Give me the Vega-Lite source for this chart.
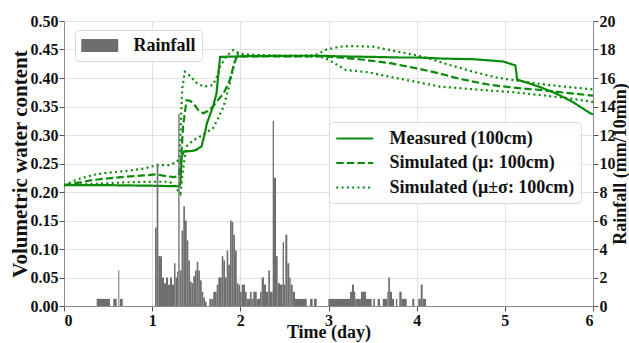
{
  "$schema": "https://vega.github.io/schema/vega-lite/v6.json",
  "width": 529,
  "height": 285,
  "autosize": {"type": "none"},
  "padding": {"left": 64, "top": 21, "right": 36, "bottom": 37},
  "background": "white",
  "config": {
    "font": "Liberation Serif",
    "view": {"stroke": "#8c8c8c", "strokeWidth": 1},
    "axis": {
      "labelFont": "Liberation Serif",
      "labelFontWeight": "bold",
      "labelFontSize": 16,
      "labelColor": "#111111",
      "titleFont": "Liberation Serif",
      "titleFontWeight": "bold",
      "titleFontSize": 18,
      "titleColor": "#111111",
      "domainColor": "#8c8c8c",
      "tickColor": "#555555",
      "tickSize": 5,
      "gridColor": "#e2e2e2",
      "gridWidth": 1,
      "labelPadding": 1
    },
    "legend": {
      "labelFont": "Liberation Serif",
      "labelFontWeight": "bold",
      "labelFontSize": 18,
      "labelColor": "#111111",
      "labelLimit": 400,
      "labelOffset": 33.5,
      "padding": 6,
      "strokeColor": "#d9d9d9",
      "fillColor": "rgba(255,255,255,0.85)",
      "cornerRadius": 4
    }
  },
  "datasets": {
    "vwc": [
      {"t": 0, "v": 0.212, "s": "Measured (100cm)", "k": "m"},
      {"t": 0.5, "v": 0.212, "s": "Measured (100cm)", "k": "m"},
      {"t": 1.0, "v": 0.211, "s": "Measured (100cm)", "k": "m"},
      {"t": 1.3, "v": 0.21, "s": "Measured (100cm)", "k": "m"},
      {"t": 1.32, "v": 0.214, "s": "Measured (100cm)", "k": "m"},
      {"t": 1.335, "v": 0.262, "s": "Measured (100cm)", "k": "m"},
      {"t": 1.36, "v": 0.271, "s": "Measured (100cm)", "k": "m"},
      {"t": 1.45, "v": 0.272, "s": "Measured (100cm)", "k": "m"},
      {"t": 1.5, "v": 0.274, "s": "Measured (100cm)", "k": "m"},
      {"t": 1.56, "v": 0.28, "s": "Measured (100cm)", "k": "m"},
      {"t": 1.6, "v": 0.305, "s": "Measured (100cm)", "k": "m"},
      {"t": 1.62, "v": 0.32, "s": "Measured (100cm)", "k": "m"},
      {"t": 1.69, "v": 0.35, "s": "Measured (100cm)", "k": "m"},
      {"t": 1.73, "v": 0.373, "s": "Measured (100cm)", "k": "m"},
      {"t": 1.75, "v": 0.405, "s": "Measured (100cm)", "k": "m"},
      {"t": 1.77, "v": 0.437, "s": "Measured (100cm)", "k": "m"},
      {"t": 2.0, "v": 0.438, "s": "Measured (100cm)", "k": "m"},
      {"t": 2.5, "v": 0.439, "s": "Measured (100cm)", "k": "m"},
      {"t": 2.9, "v": 0.439, "s": "Measured (100cm)", "k": "m"},
      {"t": 3.13, "v": 0.438, "s": "Measured (100cm)", "k": "m"},
      {"t": 3.5, "v": 0.437, "s": "Measured (100cm)", "k": "m"},
      {"t": 3.8, "v": 0.436, "s": "Measured (100cm)", "k": "m"},
      {"t": 4.0, "v": 0.436, "s": "Measured (100cm)", "k": "m"},
      {"t": 4.3, "v": 0.434, "s": "Measured (100cm)", "k": "m"},
      {"t": 4.64, "v": 0.433, "s": "Measured (100cm)", "k": "m"},
      {"t": 4.98, "v": 0.429, "s": "Measured (100cm)", "k": "m"},
      {"t": 5.12, "v": 0.422, "s": "Measured (100cm)", "k": "m"},
      {"t": 5.14, "v": 0.397, "s": "Measured (100cm)", "k": "m"},
      {"t": 5.25, "v": 0.392, "s": "Measured (100cm)", "k": "m"},
      {"t": 5.4, "v": 0.384, "s": "Measured (100cm)", "k": "m"},
      {"t": 5.58, "v": 0.373, "s": "Measured (100cm)", "k": "m"},
      {"t": 5.77, "v": 0.358, "s": "Measured (100cm)", "k": "m"},
      {"t": 5.96, "v": 0.339, "s": "Measured (100cm)", "k": "m"},
      {"t": 6.0, "v": 0.336, "s": "Measured (100cm)", "k": "m"},

      {"t": 0, "v": 0.212, "s": "Simulated (μ: 100cm)", "k": "mu"},
      {"t": 0.15, "v": 0.216, "s": "Simulated (μ: 100cm)", "k": "mu"},
      {"t": 0.33, "v": 0.221, "s": "Simulated (μ: 100cm)", "k": "mu"},
      {"t": 0.5, "v": 0.224, "s": "Simulated (μ: 100cm)", "k": "mu"},
      {"t": 0.71, "v": 0.227, "s": "Simulated (μ: 100cm)", "k": "mu"},
      {"t": 0.9, "v": 0.229, "s": "Simulated (μ: 100cm)", "k": "mu"},
      {"t": 1.05, "v": 0.231, "s": "Simulated (μ: 100cm)", "k": "mu"},
      {"t": 1.15, "v": 0.228, "s": "Simulated (μ: 100cm)", "k": "mu"},
      {"t": 1.25, "v": 0.226, "s": "Simulated (μ: 100cm)", "k": "mu"},
      {"t": 1.3, "v": 0.228, "s": "Simulated (μ: 100cm)", "k": "mu"},
      {"t": 1.33, "v": 0.26, "s": "Simulated (μ: 100cm)", "k": "mu"},
      {"t": 1.35, "v": 0.315, "s": "Simulated (μ: 100cm)", "k": "mu"},
      {"t": 1.39, "v": 0.361, "s": "Simulated (μ: 100cm)", "k": "mu"},
      {"t": 1.43, "v": 0.36, "s": "Simulated (μ: 100cm)", "k": "mu"},
      {"t": 1.47, "v": 0.355, "s": "Simulated (μ: 100cm)", "k": "mu"},
      {"t": 1.53, "v": 0.342, "s": "Simulated (μ: 100cm)", "k": "mu"},
      {"t": 1.58, "v": 0.338, "s": "Simulated (μ: 100cm)", "k": "mu"},
      {"t": 1.63, "v": 0.342, "s": "Simulated (μ: 100cm)", "k": "mu"},
      {"t": 1.69, "v": 0.35, "s": "Simulated (μ: 100cm)", "k": "mu"},
      {"t": 1.75, "v": 0.362, "s": "Simulated (μ: 100cm)", "k": "mu"},
      {"t": 1.81, "v": 0.373, "s": "Simulated (μ: 100cm)", "k": "mu"},
      {"t": 1.88, "v": 0.396, "s": "Simulated (μ: 100cm)", "k": "mu"},
      {"t": 1.93, "v": 0.425, "s": "Simulated (μ: 100cm)", "k": "mu"},
      {"t": 1.96, "v": 0.437, "s": "Simulated (μ: 100cm)", "k": "mu"},
      {"t": 2.0, "v": 0.438, "s": "Simulated (μ: 100cm)", "k": "mu"},
      {"t": 2.5, "v": 0.438, "s": "Simulated (μ: 100cm)", "k": "mu"},
      {"t": 2.9, "v": 0.438, "s": "Simulated (μ: 100cm)", "k": "mu"},
      {"t": 3.13, "v": 0.436, "s": "Simulated (μ: 100cm)", "k": "mu"},
      {"t": 3.4, "v": 0.432, "s": "Simulated (μ: 100cm)", "k": "mu"},
      {"t": 3.7, "v": 0.426, "s": "Simulated (μ: 100cm)", "k": "mu"},
      {"t": 4.0, "v": 0.417, "s": "Simulated (μ: 100cm)", "k": "mu"},
      {"t": 4.26, "v": 0.408, "s": "Simulated (μ: 100cm)", "k": "mu"},
      {"t": 4.5, "v": 0.398, "s": "Simulated (μ: 100cm)", "k": "mu"},
      {"t": 4.83, "v": 0.388, "s": "Simulated (μ: 100cm)", "k": "mu"},
      {"t": 5.1, "v": 0.383, "s": "Simulated (μ: 100cm)", "k": "mu"},
      {"t": 5.4, "v": 0.379, "s": "Simulated (μ: 100cm)", "k": "mu"},
      {"t": 5.7, "v": 0.374, "s": "Simulated (μ: 100cm)", "k": "mu"},
      {"t": 6.0, "v": 0.369, "s": "Simulated (μ: 100cm)", "k": "mu"},

      {"t": 0, "v": 0.212, "s": "Simulated (μ±σ: 100cm)", "k": "up"},
      {"t": 0.15, "v": 0.222, "s": "Simulated (μ±σ: 100cm)", "k": "up"},
      {"t": 0.33, "v": 0.23, "s": "Simulated (μ±σ: 100cm)", "k": "up"},
      {"t": 0.5, "v": 0.234, "s": "Simulated (μ±σ: 100cm)", "k": "up"},
      {"t": 0.71, "v": 0.237, "s": "Simulated (μ±σ: 100cm)", "k": "up"},
      {"t": 0.9, "v": 0.241, "s": "Simulated (μ±σ: 100cm)", "k": "up"},
      {"t": 1.05, "v": 0.247, "s": "Simulated (μ±σ: 100cm)", "k": "up"},
      {"t": 1.2, "v": 0.247, "s": "Simulated (μ±σ: 100cm)", "k": "up"},
      {"t": 1.28, "v": 0.253, "s": "Simulated (μ±σ: 100cm)", "k": "up"},
      {"t": 1.31, "v": 0.26, "s": "Simulated (μ±σ: 100cm)", "k": "up"},
      {"t": 1.34, "v": 0.38, "s": "Simulated (μ±σ: 100cm)", "k": "up"},
      {"t": 1.37, "v": 0.411, "s": "Simulated (μ±σ: 100cm)", "k": "up"},
      {"t": 1.42, "v": 0.405, "s": "Simulated (μ±σ: 100cm)", "k": "up"},
      {"t": 1.5, "v": 0.392, "s": "Simulated (μ±σ: 100cm)", "k": "up"},
      {"t": 1.58, "v": 0.385, "s": "Simulated (μ±σ: 100cm)", "k": "up"},
      {"t": 1.65, "v": 0.386, "s": "Simulated (μ±σ: 100cm)", "k": "up"},
      {"t": 1.69, "v": 0.388, "s": "Simulated (μ±σ: 100cm)", "k": "up"},
      {"t": 1.74, "v": 0.405, "s": "Simulated (μ±σ: 100cm)", "k": "up"},
      {"t": 1.77, "v": 0.42, "s": "Simulated (μ±σ: 100cm)", "k": "up"},
      {"t": 1.85, "v": 0.44, "s": "Simulated (μ±σ: 100cm)", "k": "up"},
      {"t": 1.92, "v": 0.449, "s": "Simulated (μ±σ: 100cm)", "k": "up"},
      {"t": 1.99, "v": 0.443, "s": "Simulated (μ±σ: 100cm)", "k": "up"},
      {"t": 2.1, "v": 0.441, "s": "Simulated (μ±σ: 100cm)", "k": "up"},
      {"t": 2.5, "v": 0.439, "s": "Simulated (μ±σ: 100cm)", "k": "up"},
      {"t": 2.85, "v": 0.44, "s": "Simulated (μ±σ: 100cm)", "k": "up"},
      {"t": 2.98, "v": 0.45, "s": "Simulated (μ±σ: 100cm)", "k": "up"},
      {"t": 3.13, "v": 0.455, "s": "Simulated (μ±σ: 100cm)", "k": "up"},
      {"t": 3.24, "v": 0.456, "s": "Simulated (μ±σ: 100cm)", "k": "up"},
      {"t": 3.51, "v": 0.455, "s": "Simulated (μ±σ: 100cm)", "k": "up"},
      {"t": 3.7, "v": 0.449, "s": "Simulated (μ±σ: 100cm)", "k": "up"},
      {"t": 4.07, "v": 0.4375, "s": "Simulated (μ±σ: 100cm)", "k": "up"},
      {"t": 4.35, "v": 0.424, "s": "Simulated (μ±σ: 100cm)", "k": "up"},
      {"t": 4.64, "v": 0.411, "s": "Simulated (μ±σ: 100cm)", "k": "up"},
      {"t": 4.9, "v": 0.401, "s": "Simulated (μ±σ: 100cm)", "k": "up"},
      {"t": 5.21, "v": 0.3935, "s": "Simulated (μ±σ: 100cm)", "k": "up"},
      {"t": 5.6, "v": 0.386, "s": "Simulated (μ±σ: 100cm)", "k": "up"},
      {"t": 6.0, "v": 0.38, "s": "Simulated (μ±σ: 100cm)", "k": "up"},

      {"t": 0, "v": 0.212, "s": "Simulated (μ±σ: 100cm)", "k": "lo"},
      {"t": 0.3, "v": 0.214, "s": "Simulated (μ±σ: 100cm)", "k": "lo"},
      {"t": 0.7, "v": 0.217, "s": "Simulated (μ±σ: 100cm)", "k": "lo"},
      {"t": 1.0, "v": 0.218, "s": "Simulated (μ±σ: 100cm)", "k": "lo"},
      {"t": 1.2, "v": 0.218, "s": "Simulated (μ±σ: 100cm)", "k": "lo"},
      {"t": 1.25, "v": 0.212, "s": "Simulated (μ±σ: 100cm)", "k": "lo"},
      {"t": 1.3, "v": 0.201, "s": "Simulated (μ±σ: 100cm)", "k": "lo"},
      {"t": 1.32, "v": 0.197, "s": "Simulated (μ±σ: 100cm)", "k": "lo"},
      {"t": 1.35, "v": 0.24, "s": "Simulated (μ±σ: 100cm)", "k": "lo"},
      {"t": 1.39, "v": 0.28, "s": "Simulated (μ±σ: 100cm)", "k": "lo"},
      {"t": 1.46, "v": 0.29, "s": "Simulated (μ±σ: 100cm)", "k": "lo"},
      {"t": 1.54, "v": 0.297, "s": "Simulated (μ±σ: 100cm)", "k": "lo"},
      {"t": 1.62, "v": 0.305, "s": "Simulated (μ±σ: 100cm)", "k": "lo"},
      {"t": 1.69, "v": 0.312, "s": "Simulated (μ±σ: 100cm)", "k": "lo"},
      {"t": 1.75, "v": 0.33, "s": "Simulated (μ±σ: 100cm)", "k": "lo"},
      {"t": 1.81, "v": 0.35, "s": "Simulated (μ±σ: 100cm)", "k": "lo"},
      {"t": 1.88, "v": 0.39, "s": "Simulated (μ±σ: 100cm)", "k": "lo"},
      {"t": 1.93, "v": 0.425, "s": "Simulated (μ±σ: 100cm)", "k": "lo"},
      {"t": 1.96, "v": 0.443, "s": "Simulated (μ±σ: 100cm)", "k": "lo"},
      {"t": 2.0, "v": 0.44, "s": "Simulated (μ±σ: 100cm)", "k": "lo"},
      {"t": 2.5, "v": 0.438, "s": "Simulated (μ±σ: 100cm)", "k": "lo"},
      {"t": 2.9, "v": 0.438, "s": "Simulated (μ±σ: 100cm)", "k": "lo"},
      {"t": 3.0, "v": 0.432, "s": "Simulated (μ±σ: 100cm)", "k": "lo"},
      {"t": 3.2, "v": 0.414, "s": "Simulated (μ±σ: 100cm)", "k": "lo"},
      {"t": 3.45, "v": 0.41, "s": "Simulated (μ±σ: 100cm)", "k": "lo"},
      {"t": 3.7, "v": 0.402, "s": "Simulated (μ±σ: 100cm)", "k": "lo"},
      {"t": 4.0, "v": 0.393, "s": "Simulated (μ±σ: 100cm)", "k": "lo"},
      {"t": 4.26, "v": 0.385, "s": "Simulated (μ±σ: 100cm)", "k": "lo"},
      {"t": 4.5, "v": 0.382, "s": "Simulated (μ±σ: 100cm)", "k": "lo"},
      {"t": 4.83, "v": 0.378, "s": "Simulated (μ±σ: 100cm)", "k": "lo"},
      {"t": 5.1, "v": 0.375, "s": "Simulated (μ±σ: 100cm)", "k": "lo"},
      {"t": 5.4, "v": 0.37, "s": "Simulated (μ±σ: 100cm)", "k": "lo"},
      {"t": 5.7, "v": 0.365, "s": "Simulated (μ±σ: 100cm)", "k": "lo"},
      {"t": 6.0, "v": 0.358, "s": "Simulated (μ±σ: 100cm)", "k": "lo"}
    ],
    "rain": [
      {"start": 0.371, "end": 0.522, "rain": 0.5},
      {"start": 0.559, "end": 0.598, "rain": 0.5},
      {"start": 0.616, "end": 0.627, "rain": 2.5},
      {"start": 0.635, "end": 0.666, "rain": 0.5},
      {"start": 1.032, "end": 1.051, "rain": 5.5},
      {"start": 1.051, "end": 1.07, "rain": 10.0},
      {"start": 1.07, "end": 1.089, "rain": 3.5},
      {"start": 1.089, "end": 1.111, "rain": 3.5},
      {"start": 1.111, "end": 1.134, "rain": 2.0},
      {"start": 1.134, "end": 1.157, "rain": 1.6},
      {"start": 1.157, "end": 1.18, "rain": 2.0},
      {"start": 1.18, "end": 1.202, "rain": 1.5},
      {"start": 1.202, "end": 1.225, "rain": 2.0},
      {"start": 1.225, "end": 1.248, "rain": 1.5},
      {"start": 1.248, "end": 1.265, "rain": 3.0},
      {"start": 1.265, "end": 1.282, "rain": 2.0},
      {"start": 1.282, "end": 1.296, "rain": 2.4},
      {"start": 1.296, "end": 1.311, "rain": 13.5},
      {"start": 1.311, "end": 1.333, "rain": 2.5},
      {"start": 1.333, "end": 1.353, "rain": 5.3},
      {"start": 1.353, "end": 1.372, "rain": 7.0},
      {"start": 1.372, "end": 1.392, "rain": 6.0},
      {"start": 1.392, "end": 1.41, "rain": 4.6},
      {"start": 1.41, "end": 1.429, "rain": 3.2},
      {"start": 1.429, "end": 1.448, "rain": 1.7},
      {"start": 1.448, "end": 1.466, "rain": 1.6},
      {"start": 1.466, "end": 1.486, "rain": 2.1},
      {"start": 1.486, "end": 1.505, "rain": 2.5},
      {"start": 1.505, "end": 1.523, "rain": 3.1},
      {"start": 1.523, "end": 1.542, "rain": 2.5},
      {"start": 1.542, "end": 1.562, "rain": 1.8},
      {"start": 1.562, "end": 1.58, "rain": 1.0},
      {"start": 1.58, "end": 1.599, "rain": 0.6},
      {"start": 1.599, "end": 1.618, "rain": 0.3},
      {"start": 1.648, "end": 1.675, "rain": 0.5},
      {"start": 1.675, "end": 1.693, "rain": 0.5},
      {"start": 1.693, "end": 1.732, "rain": 1.0},
      {"start": 1.732, "end": 1.75, "rain": 1.5},
      {"start": 1.75, "end": 1.789, "rain": 2.0},
      {"start": 1.789, "end": 1.807, "rain": 3.5},
      {"start": 1.807, "end": 1.826, "rain": 3.2},
      {"start": 1.826, "end": 1.845, "rain": 2.0},
      {"start": 1.845, "end": 1.863, "rain": 3.9},
      {"start": 1.863, "end": 1.883, "rain": 2.9},
      {"start": 1.883, "end": 1.902, "rain": 6.0},
      {"start": 1.902, "end": 1.92, "rain": 5.9},
      {"start": 1.92, "end": 1.939, "rain": 5.0},
      {"start": 1.939, "end": 1.959, "rain": 3.9},
      {"start": 1.959, "end": 1.977, "rain": 1.6},
      {"start": 1.977, "end": 1.996, "rain": 1.5},
      {"start": 1.996, "end": 2.015, "rain": 1.0},
      {"start": 2.015, "end": 2.053, "rain": 1.5},
      {"start": 2.053, "end": 2.072, "rain": 1.0},
      {"start": 2.072, "end": 2.11, "rain": 0.5},
      {"start": 2.11, "end": 2.129, "rain": 1.0},
      {"start": 2.129, "end": 2.147, "rain": 0.5},
      {"start": 2.147, "end": 2.186, "rain": 1.0},
      {"start": 2.186, "end": 2.223, "rain": 0.5},
      {"start": 2.223, "end": 2.242, "rain": 1.0},
      {"start": 2.242, "end": 2.268, "rain": 2.0},
      {"start": 2.268, "end": 2.291, "rain": 1.5},
      {"start": 2.291, "end": 2.317, "rain": 1.0},
      {"start": 2.317, "end": 2.336, "rain": 2.5},
      {"start": 2.336, "end": 2.367, "rain": 1.0},
      {"start": 2.367, "end": 2.382, "rain": 13.0},
      {"start": 2.382, "end": 2.405, "rain": 9.0},
      {"start": 2.405, "end": 2.424, "rain": 3.5},
      {"start": 2.424, "end": 2.45, "rain": 1.6},
      {"start": 2.45, "end": 2.48, "rain": 1.5},
      {"start": 2.48, "end": 2.495, "rain": 4.5},
      {"start": 2.495, "end": 2.51, "rain": 1.5},
      {"start": 2.51, "end": 2.533, "rain": 5.0},
      {"start": 2.533, "end": 2.555, "rain": 3.0},
      {"start": 2.555, "end": 2.571, "rain": 2.0},
      {"start": 2.571, "end": 2.594, "rain": 1.5},
      {"start": 2.594, "end": 2.62, "rain": 1.0},
      {"start": 2.62, "end": 2.753, "rain": 0.5},
      {"start": 2.79, "end": 2.82, "rain": 0.5},
      {"start": 2.835, "end": 2.866, "rain": 0.5},
      {"start": 2.998, "end": 3.244, "rain": 0.5},
      {"start": 3.244, "end": 3.266, "rain": 1.0},
      {"start": 3.266, "end": 3.289, "rain": 1.5},
      {"start": 3.289, "end": 3.304, "rain": 1.0},
      {"start": 3.304, "end": 3.368, "rain": 0.5},
      {"start": 3.368, "end": 3.425, "rain": 1.0},
      {"start": 3.425, "end": 3.49, "rain": 0.5},
      {"start": 3.508, "end": 3.527, "rain": 0.5},
      {"start": 3.558, "end": 3.584, "rain": 0.5},
      {"start": 3.615, "end": 3.667, "rain": 0.5},
      {"start": 3.667, "end": 3.678, "rain": 1.0},
      {"start": 3.678, "end": 3.697, "rain": 2.0},
      {"start": 3.697, "end": 3.72, "rain": 1.0},
      {"start": 3.72, "end": 3.743, "rain": 0.5},
      {"start": 3.765, "end": 3.78, "rain": 0.5},
      {"start": 3.803, "end": 3.83, "rain": 1.0},
      {"start": 3.83, "end": 3.887, "rain": 0.5},
      {"start": 3.95, "end": 3.973, "rain": 0.5},
      {"start": 4.018, "end": 4.046, "rain": 0.5},
      {"start": 4.046, "end": 4.068, "rain": 1.5},
      {"start": 4.068, "end": 4.106, "rain": 0.5}
    ]
  },
  "layer": [
    {
      "data": {"name": "vwc"},
      "mark": {"type": "line", "color": "#0a8a0a", "strokeWidth": 2.2, "clip": true},
      "encoding": {
        "x": {
          "field": "t",
          "type": "quantitative",
          "scale": {"domain": [0, 6], "nice": false},
          "axis": {"values": [0, 1, 2, 3, 4, 5, 6], "format": "d", "title": "Time (day)", "titlePadding": -5}
        },
        "y": {
          "field": "v",
          "type": "quantitative",
          "scale": {"domain": [0, 0.5], "nice": false},
          "axis": {
            "values": [0, 0.05, 0.1, 0.15, 0.2, 0.25, 0.3, 0.35, 0.4, 0.45, 0.5],
            "format": ".2f",
            "title": "Volumetric water content",
            "titleFontSize": 21,
            "titlePadding": 0
          }
        },
        "strokeDash": {
          "field": "s",
          "type": "nominal",
          "scale": {
            "domain": ["Measured (100cm)", "Simulated (μ: 100cm)", "Simulated (μ±σ: 100cm)"],
            "range": [[1, 0], [7.4, 3.2], [2, 3.3]]
          },
          "legend": {
            "orient": "none",
            "legendX": 265,
            "legendY": 101,
            "title": null,
            "direction": "vertical",
            "symbolType": "M-1,0H3",
            "symbolSize": 342,
            "symbolStrokeWidth": 2.2,
            "symbolStrokeColor": "#0a8a0a",
            "symbolFillColor": "transparent",
            "rowPadding": 4.5
          }
        },
        "detail": {"field": "k"}
      }
    },
    {
      "data": {"name": "rain"},
      "mark": {"type": "rect", "clip": true},
      "encoding": {
        "x": {"field": "start", "type": "quantitative", "title": "Time (day)"},
        "x2": {"field": "end"},
        "y": {
          "field": "rain",
          "type": "quantitative",
          "scale": {"domain": [0, 20], "nice": false},
          "axis": {
            "orient": "right",
            "values": [0, 2, 4, 6, 8, 10, 12, 14, 16, 18, 20],
            "grid": false,
            "title": "Rainfall (mm/10min)",
            "titleAngle": 270,
            "titleBaseline": "top",
            "titlePadding": -4
          }
        },
        "y2": {"datum": 0},
        "color": {
          "datum": "Rainfall",
          "type": "nominal",
          "scale": {"range": ["#6e6e6e"]},
          "legend": {
            "orient": "none",
            "legendX": 11,
            "legendY": 9,
            "title": null,
            "symbolType": "M-1,-0.7H3V0.7H-1Z",
            "symbolSize": 342,
            "symbolStrokeWidth": 0
          }
        }
      }
    }
  ],
  "resolve": {"scale": {"y": "independent"}}
}
